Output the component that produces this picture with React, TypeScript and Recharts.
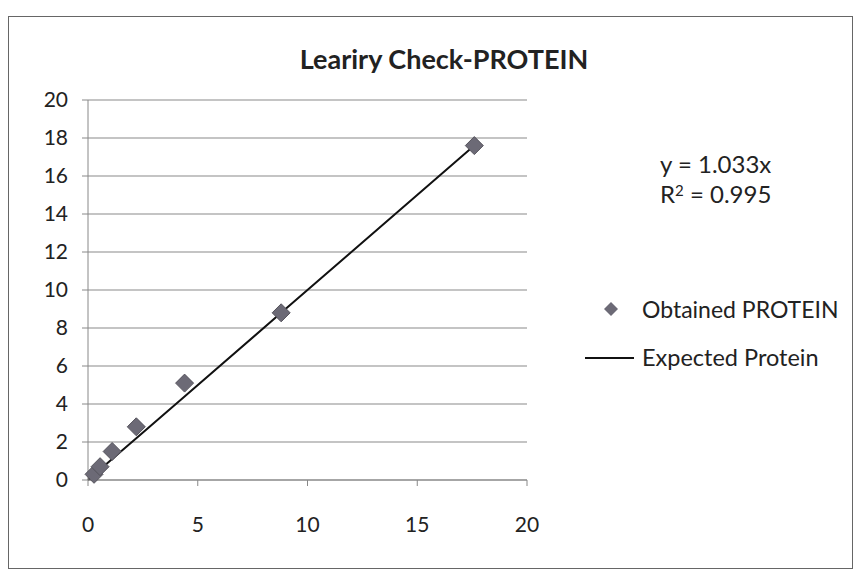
import {
  ComposedChart,
  Scatter,
  Line,
  XAxis,
  YAxis,
  CartesianGrid,
} from "recharts";

const concentrations = [0.275, 0.55, 1.1, 2.2, 4.4, 8.8, 17.6];
const obtained = [0.3, 0.7, 1.5, 2.8, 5.1, 8.8, 17.6];
const expected = [0, 0.275, 0.55, 1.1, 2.2, 4.4, 8.8, 17.6];
const xTicks = [0, 5, 10, 15, 20];
const yTicks = [0, 2, 4, 6, 8, 10, 12, 14, 16, 18, 20];

const obtainedData = concentrations.map((x, i) => ({ x, y: obtained[i] }));
const expectedData = expected.map((x) => ({ x, y: x }));

const font = "Lato, 'Open Sans', sans-serif";
const tick = { fontSize: 21, fill: "#222", fontFamily: font };
const markerFill = "#6c6a76";

const Diamond = (props: any) => {
  const { cx, cy } = props;
  const r = 9;
  return (
    <path
      d={`M${cx},${cy - r}L${cx + r},${cy}L${cx},${cy + r}L${cx - r},${cy}Z`}
      fill={markerFill}
      stroke="#55535c"
      strokeWidth={1}
    />
  );
};

export default function App() {
  return (
    <div
      style={{
        position: "absolute",
        left: 0,
        top: 0,
        width: 861,
        height: 584,
        background: "#fff",
        fontFamily: font,
        color: "#222",
      }}
    >
      <div
        style={{
          position: "absolute",
          left: 8,
          top: 16,
          width: 843,
          height: 551,
          border: "1.5px solid #666",
        }}
      />
      <div
        style={{
          position: "absolute",
          left: 0,
          width: 888,
          top: 42,
          textAlign: "center",
          fontSize: 27,
          fontWeight: 700,
        }}
      >
        Leariry Check-PROTEIN
      </div>
      <ComposedChart
        width={861}
        height={584}
        margin={{ top: 100, right: 334, bottom: 44, left: 28 }}
        style={{ position: "absolute", left: 0, top: 0 }}
      >
        <CartesianGrid vertical={false} stroke="#8a8a8a" strokeWidth={1.2} />
        <XAxis
          type="number"
          dataKey="x"
          domain={[0, 20]}
          ticks={xTicks}
          tick={tick}
          height={60}
          tickMargin={31}
          tickSize={6}
          stroke="#888"
          allowDuplicatedCategory={false}
        />
        <YAxis
          type="number"
          dataKey="y"
          domain={[0, 20]}
          ticks={yTicks}
          tick={tick}
          width={60}
          tickMargin={14}
          tickSize={6}
          stroke="#888"
        />
        <Line
          data={expectedData}
          dataKey="y"
          type="linear"
          stroke="#111"
          strokeWidth={2}
          dot={false}
          isAnimationActive={false}
        />
        <Scatter
          data={obtainedData}
          dataKey="y"
          shape={<Diamond />}
          isAnimationActive={false}
        />
      </ComposedChart>
      <div style={{ position: "absolute", left: 660, top: 149, fontSize: 24, lineHeight: "30px" }}>
        <div>y = 1.033x</div>
        <div>
          R<sup style={{ fontSize: 15, verticalAlign: "top", lineHeight: "22px" }}>2</sup> = 0.995
        </div>
      </div>
      <svg style={{ position: "absolute", left: 580, top: 298 }} width={70} height={70}>
        <path d="M31,4L38,11L31,18L24,11Z" fill={markerFill} />
        <line x1={5} y1={60} x2={54} y2={60} stroke="#111" strokeWidth={2} />
      </svg>
      <div style={{ position: "absolute", left: 642, top: 295, fontSize: 23 }}>Obtained PROTEIN</div>
      <div style={{ position: "absolute", left: 642, top: 343, fontSize: 23.5 }}>Expected Protein</div>
    </div>
  );
}
